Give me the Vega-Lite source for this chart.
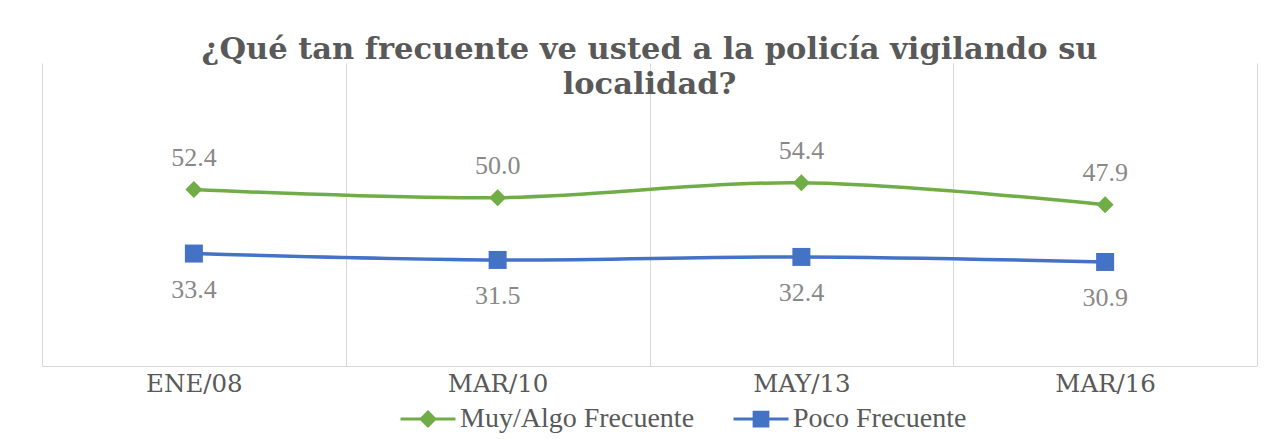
{
  "$schema": "https://vega.github.io/schema/vega-lite/v6.json",
  "width": 1215,
  "height": 303,
  "autosize": {"type": "none"},
  "padding": {"left": 42, "top": 63, "right": 31, "bottom": 73},
  "background": "white",
  "config": {
    "view": {"stroke": null},
    "font": "DejaVu Serif",
    "legend": {
      "orient": "none",
      "legendX": 357,
      "legendY": 327,
      "direction": "horizontal",
      "labelFont": "Liberation Serif",
      "labelFontSize": 28,
      "labelColor": "#595959",
      "labelLimit": 400,
      "symbolSize": 3025,
      "symbolStrokeWidth": 3,
      "symbolOpacity": 1,
      "columnPadding": 32,
      "labelOffset": 3
    }
  },
  "title": {
    "text": ["¿Qué tan frecuente ve usted a la policía vigilando su", "localidad?"],
    "font": "DejaVu Serif",
    "fontSize": 30.5,
    "fontWeight": "bold",
    "color": "#595959",
    "lineHeight": 35,
    "anchor": "middle",
    "frame": "group",
    "offset": -37
  },
  "data": {
    "values": [
      {"periodo": "ENE/08", "serie": "Muy/Algo Frecuente", "valor": 52.4},
      {"periodo": "MAR/10", "serie": "Muy/Algo Frecuente", "valor": 50.0},
      {"periodo": "MAY/13", "serie": "Muy/Algo Frecuente", "valor": 54.4},
      {"periodo": "MAR/16", "serie": "Muy/Algo Frecuente", "valor": 47.9},
      {"periodo": "ENE/08", "serie": "Poco Frecuente", "valor": 33.4},
      {"periodo": "MAR/10", "serie": "Poco Frecuente", "valor": 31.5},
      {"periodo": "MAY/13", "serie": "Poco Frecuente", "valor": 32.4},
      {"periodo": "MAR/16", "serie": "Poco Frecuente", "valor": 30.9}
    ]
  },
  "encoding": {
    "x": {
      "field": "periodo",
      "type": "ordinal",
      "sort": ["ENE/08", "MAR/10", "MAY/13", "MAR/16"],
      "scale": {"type": "band", "paddingInner": 0, "paddingOuter": 0},
      "axis": {
        "title": null,
        "labelAngle": 0,
        "tickBand": "extent",
        "grid": true,
        "gridColor": "#d9d9d9",
        "gridWidth": 1,
        "ticks": false,
        "domainColor": "#d9d9d9",
        "domainWidth": 1,
        "labelFont": "DejaVu Serif",
        "labelFontSize": 24.5,
        "labelColor": "#595959",
        "labelPadding": 6
      }
    },
    "y": {
      "field": "valor",
      "type": "quantitative",
      "scale": {"domain": [0, 90]},
      "axis": null
    }
  },
  "layer": [
    {
      "mark": {"type": "line", "interpolate": "catmull-rom", "strokeWidth": 3.5},
      "encoding": {
        "color": {
          "field": "serie",
          "type": "nominal",
          "scale": {"domain": ["Muy/Algo Frecuente", "Poco Frecuente"], "range": ["#70AD47", "#4472C4"]},
          "legend": {"title": null}
        }
      }
    },
    {
      "transform": [{"filter": "datum.serie === 'Muy/Algo Frecuente'"}],
      "mark": {"type": "point", "filled": true, "shape": "diamond", "size": 289, "opacity": 1},
      "encoding": {
        "color": {"field": "serie", "type": "nominal", "legend": {"title": null}}
      }
    },
    {
      "transform": [{"filter": "datum.serie === 'Poco Frecuente'"}],
      "mark": {"type": "point", "filled": true, "shape": "square", "size": 324, "opacity": 1},
      "encoding": {
        "color": {"field": "serie", "type": "nominal", "legend": {"title": null}}
      }
    },
    {
      "mark": {"type": "point", "filled": true, "opacity": 0},
      "encoding": {
        "color": {"field": "serie", "type": "nominal", "legend": {"title": null}},
        "shape": {
          "field": "serie",
          "type": "nominal",
          "scale": {
            "domain": ["Muy/Algo Frecuente", "Poco Frecuente"],
            "range": [
              "M-1,0H1M-0.25,0L0,-0.25L0.25,0L0,0.25Z",
              "M-1,0H1M-0.25,-0.25H0.25V0.25H-0.25Z"
            ]
          },
          "legend": {
            "title": null,
            "encode": {
              "symbols": {
                "update": {
                  "stroke": {"scale": "color", "field": "value"},
                  "strokeWidth": {"value": 3},
                  "opacity": {"value": 1}
                }
              }
            }
          }
        }
      }
    },
    {
      "transform": [{"filter": "datum.serie === 'Muy/Algo Frecuente'"}],
      "mark": {"type": "text", "font": "Liberation Serif", "fontSize": 26, "color": "#888888", "baseline": "alphabetic", "dy": -24},
      "encoding": {
        "text": {"field": "valor", "type": "quantitative", "format": ".1f"}
      }
    },
    {
      "transform": [{"filter": "datum.serie === 'Poco Frecuente'"}],
      "mark": {"type": "text", "font": "Liberation Serif", "fontSize": 26, "color": "#888888", "baseline": "alphabetic", "dy": 44},
      "encoding": {
        "text": {"field": "valor", "type": "quantitative", "format": ".1f"}
      }
    }
  ]
}
